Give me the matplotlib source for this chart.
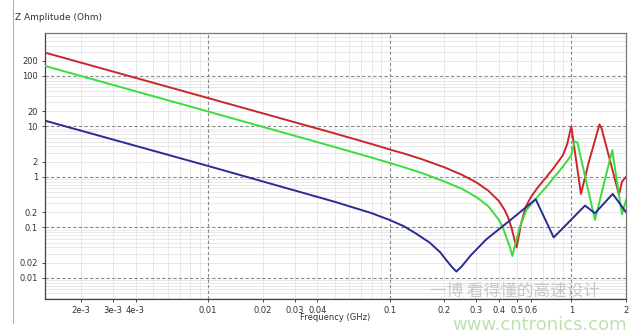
import numpy as np
import matplotlib
matplotlib.use('Agg')
import matplotlib.pyplot as plt
from matplotlib.lines import Line2D
from matplotlib.ticker import FixedLocator, NullFormatter

# values (frequency in GHz, |Z| in Ohm)
red_f = [0.00127, 0.01, 0.05, 0.08, 0.1, 0.12, 0.15, 0.2, 0.25, 0.3, 0.35, 0.4, 0.43, 0.45, 0.47, 0.485, 0.5,
         0.515, 0.53, 0.56, 0.6, 0.65, 0.73, 0.8, 0.9, 0.95, 1.0, 1.13, 1.25, 1.43, 1.47, 1.83, 1.9, 2.0]
red_z = [290, 36.6, 7.25, 4.45, 3.5, 2.9, 2.25, 1.55, 1.1, 0.78, 0.53, 0.33, 0.22, 0.155, 0.095, 0.06, 0.04,
         0.07, 0.12, 0.25, 0.4, 0.6, 1.0, 1.5, 2.7, 4.5, 10, 0.46, 2.0, 11, 9, 0.44, 0.8, 1.0]

green_f = [0.00127, 0.01, 0.05, 0.08, 0.1, 0.12, 0.15, 0.2, 0.25, 0.3, 0.35, 0.4, 0.42, 0.44, 0.46, 0.474,
           0.49, 0.52, 0.566, 0.65, 0.73, 0.9, 1.0, 1.04, 1.08, 1.35, 1.68, 1.9, 2.0]
green_z = [158, 19.8, 3.9, 2.4, 1.89, 1.55, 1.2, 0.81, 0.58, 0.40, 0.26, 0.14, 0.1, 0.062, 0.04, 0.027,
           0.045, 0.1, 0.22, 0.4, 0.64, 1.6, 2.7, 5.0, 4.8, 0.14, 3.4, 0.18, 0.35]

blue_f = [0.00127, 0.01, 0.05, 0.08, 0.1, 0.12, 0.14, 0.166, 0.19, 0.206, 0.22, 0.233,
          0.25, 0.28, 0.341, 0.455, 0.637, 0.80, 1.19, 1.35, 1.69, 2.0]
blue_z = [13, 1.65, 0.32, 0.19, 0.14, 0.105, 0.075, 0.05, 0.032, 0.022, 0.0165, 0.0133,
          0.017, 0.028, 0.058, 0.133, 0.36, 0.063, 0.27, 0.19, 0.46, 0.2]

x_ticks = [2e-3, 3e-3, 4e-3, 0.01, 0.02, 0.03, 0.04, 0.1, 0.2, 0.3, 0.4, 0.5, 0.6, 1, 2]
x_labels = ['2e-3', '3e-3', '4e-3', '0.01', '0.02', '0.03', '0.04', '0.1',
            '0.2', '0.3', '0.4', '0.5', '0.6', '1', '2']
y_ticks = [0.01, 0.02, 0.1, 0.2, 1, 2, 10, 20, 100, 200]
y_labels = ['0.01', '0.02', '0.1', '0.2', '1', '2', '10', '20', '100', '200']

fig = plt.figure(figsize=(6.42, 3.36), dpi=100)
ax = fig.add_axes([45/642, 37/336, 581/642, 266/336])
ax.set_xscale('log')
ax.set_yscale('log')
ax.set_xlim(0.00127, 2.0)
ax.set_ylim(0.0038, 710)

# grid: light minor lines, dashed major decades
minor_x = [m * 10.0**e for e in range(-3, 1) for m in range(2, 10)]
minor_y = [m * 10.0**e for e in range(-3, 3) for m in range(2, 10)]
for v in minor_x:
    ax.axvline(v, color='#e4e4e4', lw=0.6, zorder=0)
for v in minor_y:
    ax.axhline(v, color='#e4e4e4', lw=0.6, zorder=0)
for v in [0.01, 0.1, 1]:
    ax.axvline(v, color='#8a8a8a', lw=0.8, ls=(0, (3, 2)), zorder=1)
for v in [0.01, 0.1, 1, 10, 100]:
    ax.axhline(v, color='#8a8a8a', lw=0.8, ls=(0, (3, 2)), zorder=1)

ax.plot(red_f, red_z, color='#c8282c', lw=1.4, zorder=3)
ax.plot(green_f, green_z, color='#3ddc3d', lw=1.4, zorder=3)
ax.plot(blue_f, blue_z, color='#2b2b96', lw=1.4, zorder=4)

ax.xaxis.set_major_locator(FixedLocator(x_ticks))
ax.set_xticklabels(x_labels)
ax.xaxis.set_minor_formatter(NullFormatter())
ax.yaxis.set_major_locator(FixedLocator(y_ticks))
ax.set_yticklabels(y_labels)
ax.yaxis.set_minor_formatter(NullFormatter())
ax.tick_params(which='minor', length=0)
ax.tick_params(which='major', labelsize=6, colors='#333333', length=2, width=0.6, pad=3)

for s in ax.spines.values():
    s.set_color('#777777')
    s.set_linewidth(0.9)
ax.spines['left'].set_color('#444444')
ax.spines['bottom'].set_color('#444444')

fig.text(335/642, 1 - 318/336, 'Frequency (GHz)', ha='center', va='center',
         fontsize=6, color='#333333')
fig.text(15/642, 1 - 17/336, 'Z Amplitude (Ohm)', ha='left', va='center',
         fontsize=6.5, color='#333333')
fig.add_artist(Line2D([13/642, 13/642], [1 - 323/336, 1.0], color='#b0b0b0', lw=0.8))

# watermark
fig.text(515/642, 1 - 291/336, '一博 看得懂的高速设计', ha='center', va='center',
         fontsize=12, color='#bbbbbb', alpha=0.8,
         family=['Noto Sans CJK SC', 'DejaVu Sans'])
fig.text(540/642, 1 - 325/336, 'www.cntronics.com', ha='center', va='center',
         fontsize=13, color='#b5dfa5', alpha=0.9)

fig.savefig('out.png', dpi=100)
